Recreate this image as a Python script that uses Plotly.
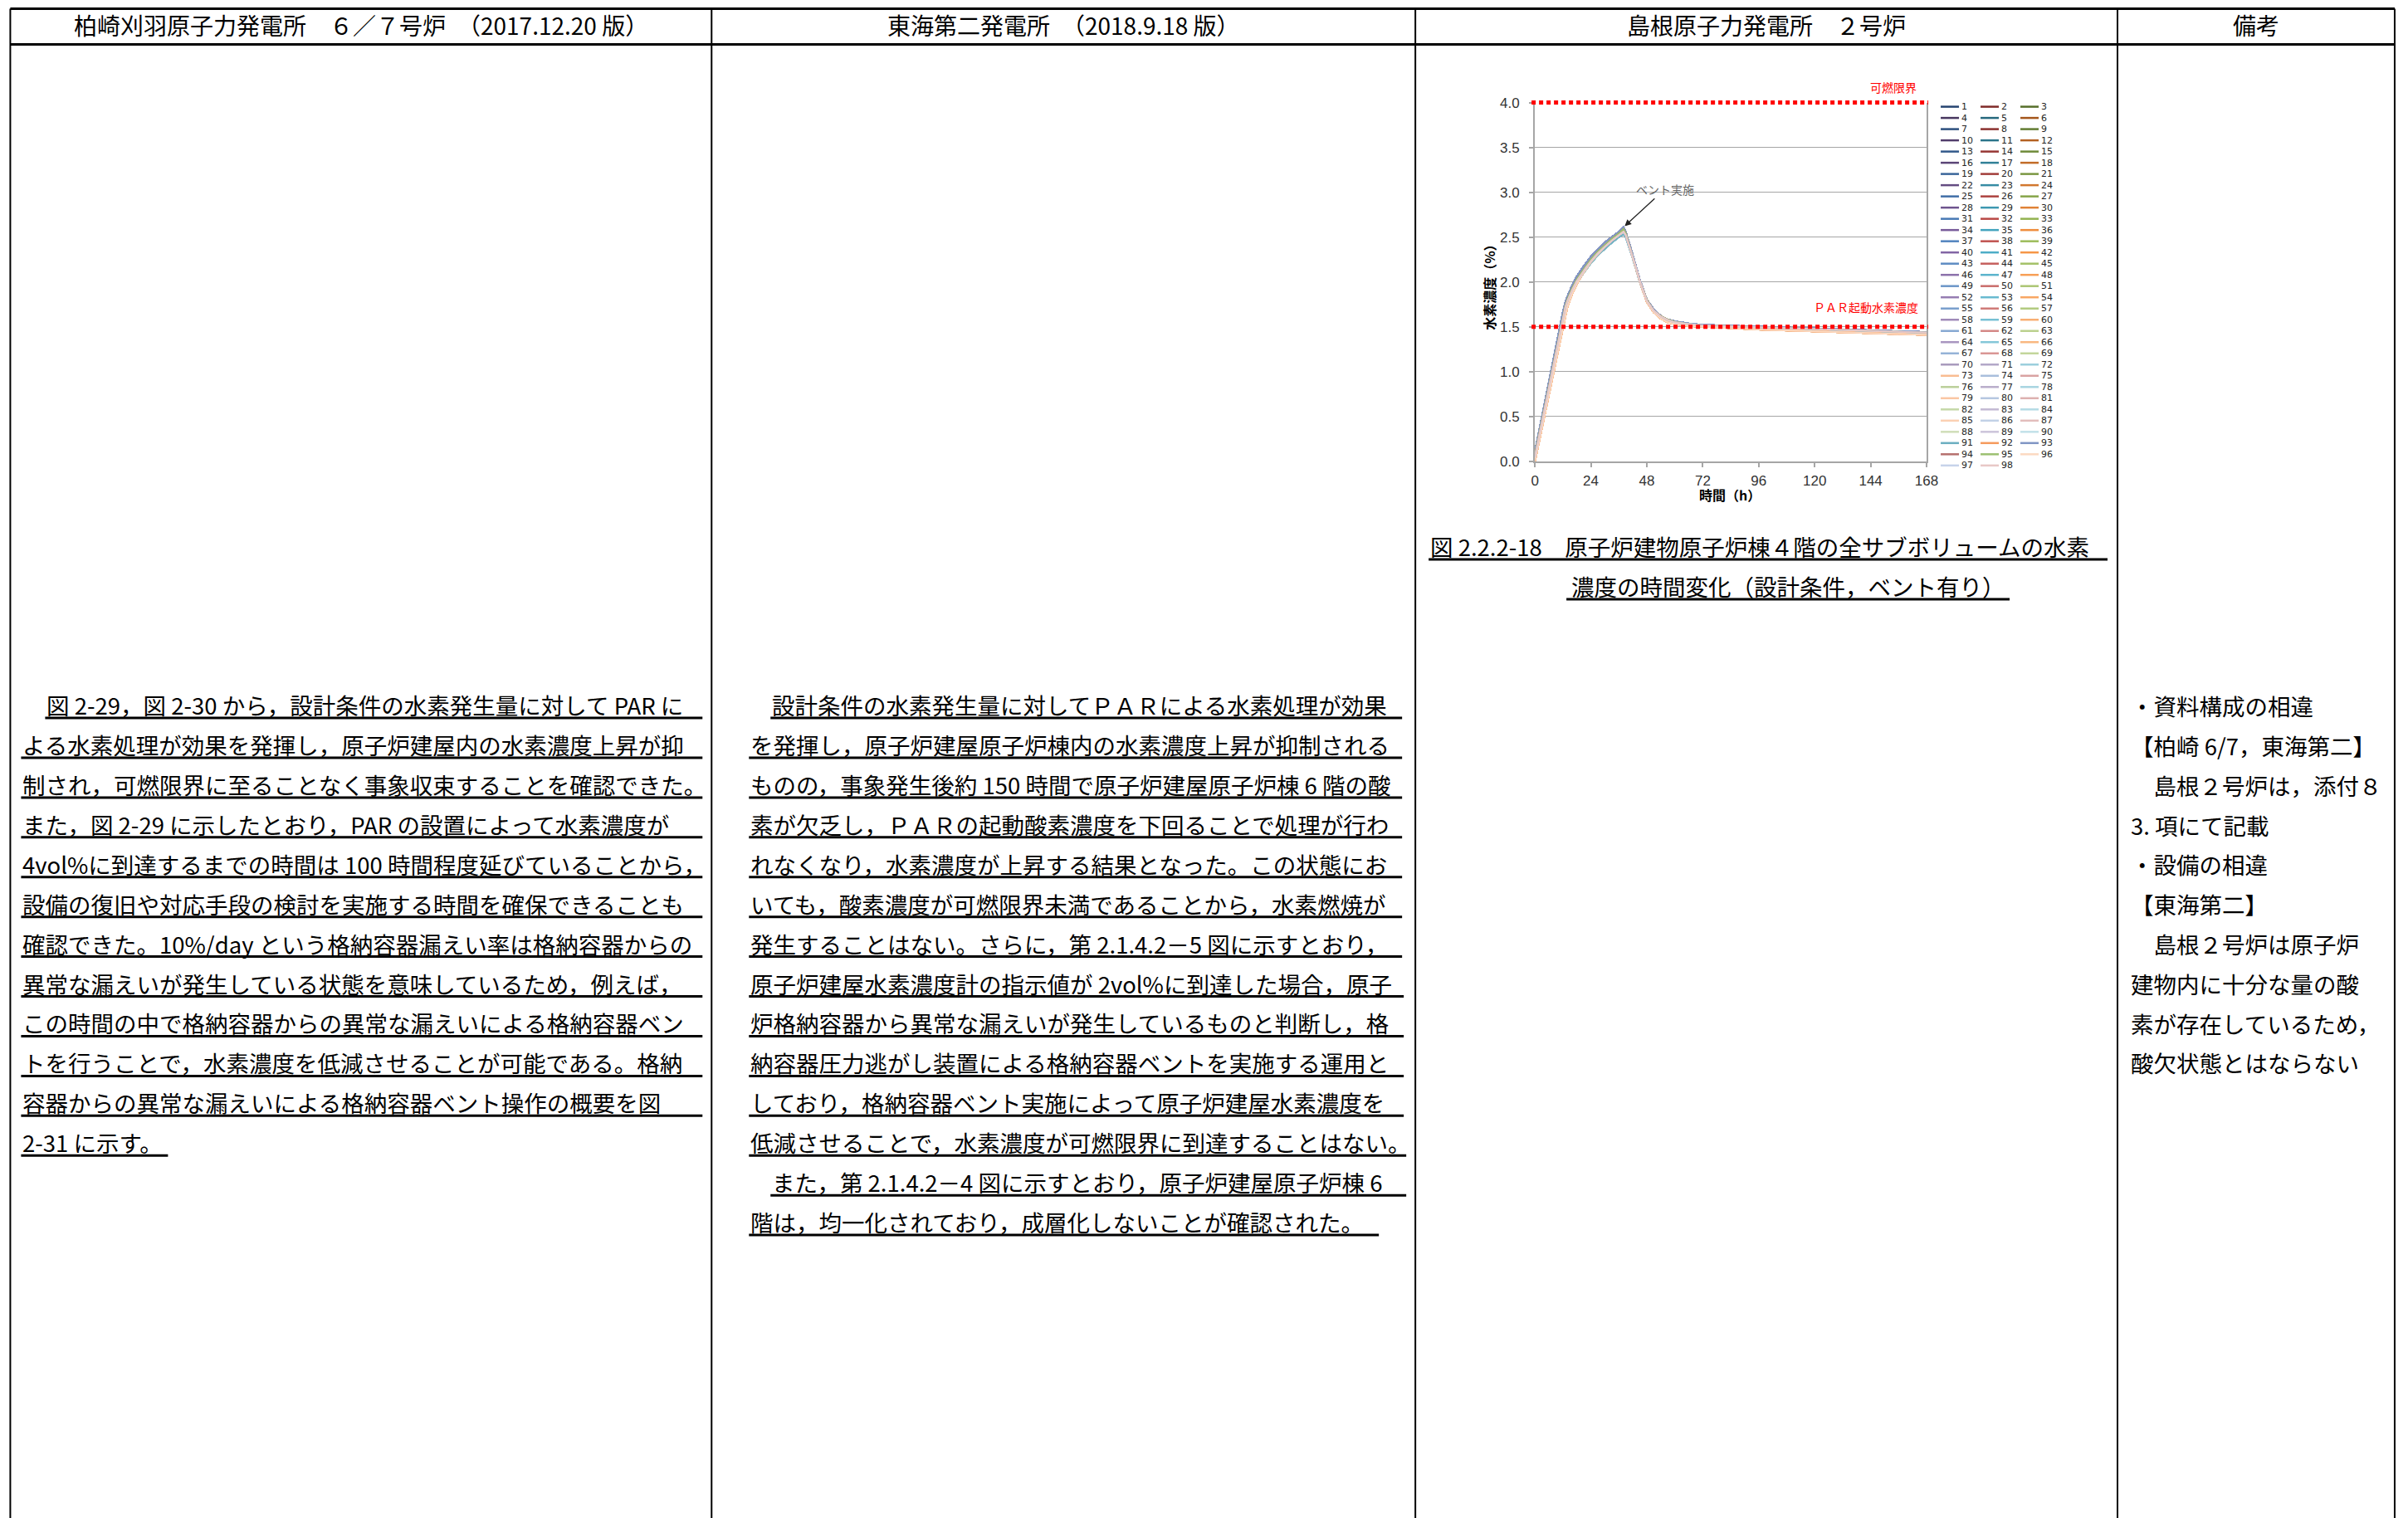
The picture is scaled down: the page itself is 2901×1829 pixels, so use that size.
import plotly.graph_objects as go

W, H = 2901, 1829            # reference page size (positions below are reference pixels)
# observed mapping of the viewer: shown = A + B * page  -> positions are pre-compensated
AX, BX = 5.6, 0.9936
AY, BY = 12.5, 0.989

# ------------------------------------------------------------------ data
TIME_H = [0, 2, 4, 6, 8, 10, 12, 13, 14, 16, 18, 20, 22, 24, 27, 30, 33, 36, 38,
          39, 41, 43, 45, 48, 51, 54, 57, 60, 66, 72, 84, 96, 108, 120, 132, 144, 156, 168]

H2_UPPER = [0.10, 0.36, 0.62, 0.89, 1.15, 1.41, 1.66, 1.76, 1.84, 1.96, 2.06, 2.14, 2.21, 2.28, 2.36,
            2.44, 2.50, 2.56, 2.61, 2.55, 2.38, 2.20, 2.02, 1.80, 1.69, 1.62, 1.58, 1.56, 1.535, 1.52,
            1.51, 1.50, 1.49, 1.48, 1.47, 1.46, 1.45, 1.44]
H2_MID_HIGH = [0.07, 0.33, 0.59, 0.85, 1.11, 1.37, 1.62, 1.73, 1.81, 1.93, 2.03, 2.11, 2.18, 2.25, 2.34,
               2.41, 2.48, 2.54, 2.59, 2.54, 2.37, 2.19, 2.01, 1.80, 1.68, 1.62, 1.58, 1.555, 1.53, 1.515,
               1.505, 1.495, 1.485, 1.475, 1.465, 1.455, 1.445, 1.435]
H2_LOWER = [0.04, 0.30, 0.56, 0.82, 1.08, 1.33, 1.58, 1.69, 1.77, 1.89, 1.99, 2.07, 2.14, 2.21, 2.30,
            2.37, 2.44, 2.50, 2.53, 2.50, 2.35, 2.18, 2.00, 1.79, 1.68, 1.61, 1.575, 1.55, 1.53, 1.515,
            1.505, 1.495, 1.485, 1.475, 1.465, 1.455, 1.445, 1.435]
H2_LAGGING = [0.00, 0.24, 0.49, 0.74, 0.99, 1.24, 1.49, 1.62, 1.73, 1.87, 1.98, 2.07, 2.15, 2.22, 2.31,
              2.39, 2.46, 2.52, 2.56, 2.52, 2.36, 2.18, 2.00, 1.78, 1.66, 1.59, 1.55, 1.53, 1.51, 1.50,
              1.485, 1.47, 1.46, 1.45, 1.44, 1.43, 1.42, 1.41]
H2_MID = [0.05, 0.31, 0.57, 0.83, 1.09, 1.35, 1.60, 1.71, 1.79, 1.91, 2.01, 2.09, 2.16, 2.23, 2.32,
          2.39, 2.46, 2.52, 2.56, 2.52, 2.36, 2.19, 2.01, 1.79, 1.68, 1.615, 1.575, 1.55, 1.53, 1.515,
          1.505, 1.495, 1.485, 1.475, 1.465, 1.455, 1.445, 1.435]
PROFILES = [H2_UPPER, H2_MID_HIGH, H2_LOWER, H2_LAGGING, H2_MID]

SERIES_NAMES = [str(i) for i in range(1, 99)]
SERIES_PROFILE = [
    0, 1, 1, 0, 2, 3,
    0, 1, 1, 0, 2, 3,
    0, 1, 1, 0, 2, 3,
    0, 1, 1, 0, 2, 3,
    0, 1, 1, 0, 2, 3,
    0, 1, 1, 0, 2, 3,
    0, 1, 1, 0, 2, 3,
    0, 1, 1, 0, 2, 3,
    0, 1, 1, 0, 2, 3,
    0, 1, 1, 0, 2, 3,
    0, 1, 1, 0, 2, 3,
    0, 1, 1,
    4, 4, 2, 3, 2, 1, 1, 4, 2, 3, 2, 1, 4, 4, 2, 3, 2, 4, 4, 4, 2, 2, 3, 0, 1, 1, 3, 4, 4,
]

FLAMMABLE_LIMIT = 4.0
PAR_START = 1.5
VENT_TIME = 38

X_TICKS = [0, 24, 48, 72, 96, 120, 144, 168]
Y_TICKS = [0.0, 0.5, 1.0, 1.5, 2.0, 2.5, 3.0, 3.5, 4.0]

HEADERS = ["柏崎刈羽原子力発電所　６／７号炉　（2017.12.20 版）",
           "東海第二発電所　（2018.9.18 版）",
           "島根原子力発電所　２号炉",
           "備考"]

LEFT_LINES = [
    "図 2-29，図 2-30 から，設計条件の水素発生量に対して PAR に",
    "よる水素処理が効果を発揮し，原子炉建屋内の水素濃度上昇が抑",
    "制され，可燃限界に至ることなく事象収束することを確認できた。",
    "また，図 2-29 に示したとおり，PAR の設置によって水素濃度が",
    "4vol%に到達するまでの時間は 100 時間程度延びていることから，",
    "設備の復旧や対応手段の検討を実施する時間を確保できることも",
    "確認できた。10%/day という格納容器漏えい率は格納容器からの",
    "異常な漏えいが発生している状態を意味しているため，例えば，",
    "この時間の中で格納容器からの異常な漏えいによる格納容器ベン",
    "トを行うことで，水素濃度を低減させることが可能である。格納",
    "容器からの異常な漏えいによる格納容器ベント操作の概要を図",
    "2-31 に示す。",
]
MID_LINES = [
    "設計条件の水素発生量に対してＰＡＲによる水素処理が効果",
    "を発揮し，原子炉建屋原子炉棟内の水素濃度上昇が抑制される",
    "ものの，事象発生後約 150 時間で原子炉建屋原子炉棟 6 階の酸",
    "素が欠乏し，ＰＡＲの起動酸素濃度を下回ることで処理が行わ",
    "れなくなり，水素濃度が上昇する結果となった。この状態にお",
    "いても，酸素濃度が可燃限界未満であることから，水素燃焼が",
    "発生することはない。さらに，第 2.1.4.2－5 図に示すとおり，",
    "原子炉建屋水素濃度計の指示値が 2vol%に到達した場合，原子",
    "炉格納容器から異常な漏えいが発生しているものと判断し，格",
    "納容器圧力逃がし装置による格納容器ベントを実施する運用と",
    "しており，格納容器ベント実施によって原子炉建屋水素濃度を",
    "低減させることで，水素濃度が可燃限界に到達することはない。",
    "また，第 2.1.4.2－4 図に示すとおり，原子炉建屋原子炉棟 6",
    "階は，均一化されており，成層化しないことが確認された。",
]
NOTE_LINES = [
    "・資料構成の相違",
    "【柏崎 6/7，東海第二】",
    "　島根２号炉は，添付８",
    "3. 項にて記載",
    "・設備の相違",
    "【東海第二】",
    "　島根２号炉は原子炉",
    "建物内に十分な量の酸",
    "素が存在しているため，",
    "酸欠状態とはならない",
]
CAPTION_LINES = ["図 2.2.2-18　原子炉建物原子炉棟４階の全サブボリュームの水素",
                 "濃度の時間変化（設計条件，ベント有り）"]

# ------------------------------------------------------------------ styles / layout geometry
JP = "Noto Sans CJK JP"
NUM = "DejaVu Sans"
TICKF = "Liberation Sans"
SX, SY = W * BX, H * BY


def px(x):
    return (x - AX) / SX


def py(y):
    return 1 - (y - AY) / SY


COL_X = [13, 858, 1706, 2552, 2886]
TOP_Y, HEAD_Y = 14, 57

PLOT_L, PLOT_R, PLOT_T, PLOT_B = 1850, 2322, 127, 559
Y_RANGE = [0, 4]
X_RANGE = [0, 168]


def ypaper(v):
    return py(PLOT_B) + (v - Y_RANGE[0]) / (Y_RANGE[1] - Y_RANGE[0]) * (py(PLOT_T) - py(PLOT_B))


def xpaper(v):
    return px(PLOT_L) + (v - X_RANGE[0]) / (X_RANGE[1] - X_RANGE[0]) * (px(PLOT_R) - px(PLOT_L))


# series colours (Excel-like shading of six accents)
DARK = ['#254470', '#7F2A28', '#566F2A', '#47365F', '#25687D', '#A4561B']
BASE = ['#4A7EBB', '#BE4B48', '#98B954', '#7D5FA0', '#46AAC5', '#F69240']
LIGHT = ['#95B3D7', '#D99694', '#C3D69B', '#B3A2C7', '#93CDDD', '#FAC090']
LATE = ['#A99BBD', '#B3A8C8', '#9CCFDD', '#F9BC91', '#A9BEDC', '#D9A3A2', '#BBD09A', '#B9AECB',
        '#A8D5E1', '#FAC6A3', '#B5C7E0', '#DDB1B0', '#C5D8A8', '#C3B9D3', '#B5DBE5', '#FBD0B3',
        '#C2D1E6', '#E2BDBC', '#D0DEB9', '#CCC4DA', '#C2E1E9', '#6BAEC0', '#F59A5C', '#7F95C4',
        '#B56F6D', '#9CC070', '#FCD9C1', '#C7D3EA', '#E8C8C7']


def mix(c1, c2, t):
    a = [int(c1[i:i + 2], 16) for i in (1, 3, 5)]
    b = [int(c2[i:i + 2], 16) for i in (1, 3, 5)]
    return '#%02X%02X%02X' % tuple(round(a[k] + (b[k] - a[k]) * t) for k in range(3))


COLORS = []
for i in range(69):
    acc, cyc = i % 6, i // 6
    f = cyc / 11
    if f < 0.5:
        COLORS.append(mix(DARK[acc], BASE[acc], f / 0.5))
    else:
        COLORS.append(mix(BASE[acc], LIGHT[acc], (f - 0.5) / 0.5))
COLORS += LATE

fig = go.Figure()
for name, prof, col in zip(SERIES_NAMES, SERIES_PROFILE, COLORS):
    fig.add_trace(go.Scatter(x=TIME_H, y=PROFILES[prof], mode='lines', name=name,
                             line=dict(color=col, width=2), showlegend=False, hoverinfo='skip'))

shapes = []
ann = []


def hline(x0, x1, y, w, color='black'):
    shapes.append(dict(type='line', xref='paper', yref='paper', x0=px(x0), x1=px(x1),
                       y0=py(y), y1=py(y), line=dict(color=color, width=w), layer='above'))


def text(x, y, s, size, anchor='left', color='black', family=JP, angle=0, weight=None):
    f = dict(family=family, size=size, color=color)
    if weight:
        f['weight'] = weight
    ann.append(dict(x=px(x), y=py(y), xref='paper', yref='paper', text=s, showarrow=False,
                    xanchor=anchor, yanchor='middle', font=f, textangle=angle))


# table frame
hline(COL_X[0], COL_X[-1], TOP_Y, 3)
hline(COL_X[0], COL_X[-1], HEAD_Y, 3)
for cx in COL_X:
    shapes.append(dict(type='line', xref='paper', yref='paper', x0=px(cx), x1=px(cx),
                       y0=py(TOP_Y), y1=-0.02, line=dict(color='black', width=2)))

# headers
for k, h in enumerate(HEADERS):
    text((COL_X[k] + COL_X[k + 1]) / 2, 33, h, 28, anchor='center')

BODY = 27.5
PITCH = 47.9
UL_OFF = 16

LEFT_EXT = [(55, 847)] + [(26, 847)] * 10 + [(26, 203)]
for k, (s, (x0, x1)) in enumerate(zip(LEFT_LINES, LEFT_EXT)):
    yy = 852 + k * PITCH
    text(x0, yy, s, BODY)
    hline(x0, x1, yy + UL_OFF, 3)

MID_EXT = [(929, 1690)] + [(903, 1690)] * 6 + [(903, 1692)] * 4 + [(903, 1695), (929, 1695), (903, 1662)]
for k, (s, (x0, x1)) in enumerate(zip(MID_LINES, MID_EXT)):
    yy = 852 + k * PITCH
    text(x0, yy, s, BODY)
    hline(x0, x1, yy + UL_OFF, 3)

for k, s in enumerate(NOTE_LINES):
    text(2566, 853 + k * 47.8, s, BODY)

# caption
text(1722, 661, CAPTION_LINES[0], BODY)
hline(1722, 2540, 661 + UL_OFF, 3)
text(2155, 709, CAPTION_LINES[1], BODY, anchor='center')
hline(1888, 2422, 709 + UL_OFF, 3)

# threshold lines (red dotted)
for v in (FLAMMABLE_LIMIT, PAR_START):
    shapes.append(dict(type='line', xref='paper', yref='paper', x0=xpaper(X_RANGE[0]) - 4 / SX,
                       x1=xpaper(X_RANGE[1]) + 2 / SX, y0=ypaper(v), y1=ypaper(v),
                       line=dict(color='#FF0000', width=5, dash='5px,4px'), layer='above'))
ann.append(dict(x=xpaper(X_RANGE[1]) - 10 / SX, y=ypaper(FLAMMABLE_LIMIT) + 19 / SY, xref='paper',
                yref='paper', text='可燃限界', showarrow=False, xanchor='right', yanchor='middle',
                font=dict(family=JP, size=14, color='#FF0000')))
ann.append(dict(x=xpaper(X_RANGE[1]) - 8 / SX, y=ypaper(PAR_START) + 24 / SY, xref='paper',
                yref='paper', text='ＰＡＲ起動水素濃度', showarrow=False, xanchor='right',
                yanchor='middle', font=dict(family=JP, size=14, color='#FF0000')))

# vent annotation
vent_idx = TIME_H.index(VENT_TIME)
ann.append(dict(x=VENT_TIME, y=H2_UPPER[vent_idx], xref='x', yref='y', text='ベント実施',
                showarrow=True, ax=50, ay=-46, arrowhead=2, arrowsize=1.2, arrowwidth=1.3,
                arrowcolor='#222222', standoff=2, font=dict(family=JP, size=14, color='#666666')))

# axis titles
text(1795, 346, '水素濃度（%）', 16, anchor='center', angle=-90, weight='bold')
text(2085, 599, '時間（h）', 16, anchor='center', weight='bold')

# custom three-column legend
LEG_X = [2339, 2387, 2435]
for i, (name, col) in enumerate(zip(SERIES_NAMES, COLORS)):
    r, c = divmod(i, 3)
    yy = 132 + r * 13.5
    hline(LEG_X[c], LEG_X[c] + 22, yy, 2.5, color=col)
    text(LEG_X[c] + 23, yy, name, 11, family=NUM, color='#262626')

fig.update_layout(
    autosize=True,
    margin=dict(l=0, r=0, t=0, b=0, pad=0),
    paper_bgcolor='white', plot_bgcolor='white',
    showlegend=False,
    shapes=shapes, annotations=ann,
    xaxis=dict(domain=[px(PLOT_L), px(PLOT_R)], range=X_RANGE, tickvals=X_TICKS,
               ticks='outside', ticklen=5, tickcolor='#A6A6A6', tickwidth=1.5,
               showline=True, linecolor='#A6A6A6', linewidth=2, showgrid=False, zeroline=False,
               tickfont=dict(family=TICKF, size=17, color='#333333'), ticklabelstandoff=2),
    yaxis=dict(domain=[py(PLOT_B), py(PLOT_T)], range=Y_RANGE, tickvals=Y_TICKS, tickformat='.1f',
               ticks='outside', ticklen=5, tickcolor='#A6A6A6', tickwidth=1.5,
               showline=True, mirror=True, linecolor='#A6A6A6', linewidth=2,
               showgrid=True, gridcolor='#A6A6A6', gridwidth=1.3, zeroline=False,
               tickfont=dict(family=TICKF, size=17, color='#333333'), ticklabelstandoff=8),
)

# the figure div is pinned to the whole browser viewport
fig.write_html("out.html", include_plotlyjs=True,
               config={'displayModeBar': False, 'responsive': True},
               default_width="100vw; position:fixed; left:0; top:0",
               default_height="100vh")
